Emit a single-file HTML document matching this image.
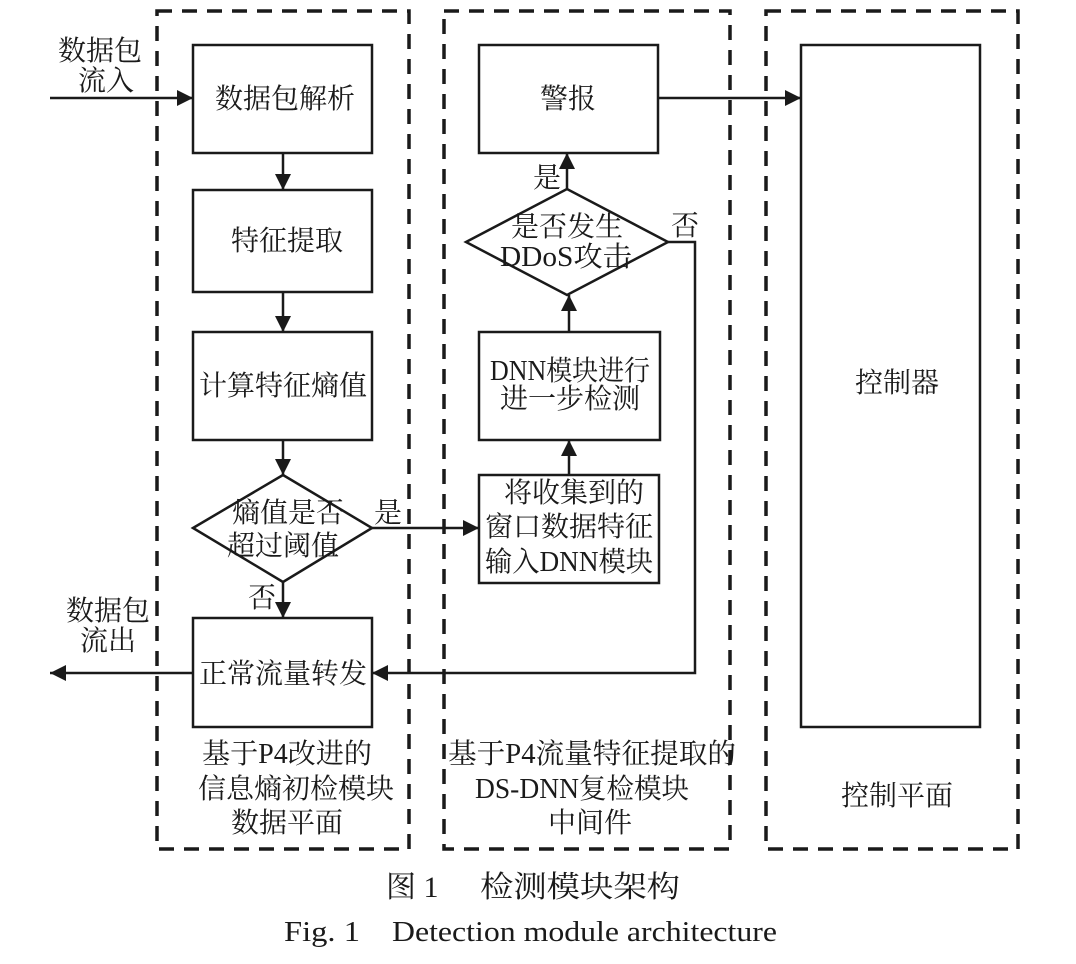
<!DOCTYPE html>
<html><head><meta charset="utf-8"><style>
html,body{margin:0;padding:0;background:#fff;}
svg{display:block;}
text{font-family:"Liberation Serif","Noto Serif CJK SC",serif;fill:#1a1a1a;}
</style></head><body>
<svg width="1076" height="964" viewBox="0 0 1076 964" xmlns="http://www.w3.org/2000/svg">
<defs>
<marker id="b" viewBox="0 0 10 10" refX="10" refY="5" markerWidth="20" markerHeight="16" markerUnits="userSpaceOnUse" orient="auto"><path d="M0,0 L10,5 L0,10 z" fill="#1a1a1a"/></marker>
</defs>
<g fill="none" stroke="#1a1a1a" stroke-width="3.5" stroke-dasharray="15,10">
<rect x="157" y="11" width="252" height="838"/>
<rect x="444" y="11" width="286" height="838"/>
<rect x="766" y="11" width="252" height="838"/>
</g>
<g fill="none" stroke="#1a1a1a" stroke-width="2.5">
<rect x="193" y="45" width="179" height="108"/>
<rect x="193" y="190" width="179" height="102"/>
<rect x="193" y="332" width="179" height="108"/>
<polygon points="193,528 283,475 372,528 283,582"/>
<rect x="193" y="618" width="179" height="109"/>
<rect x="479" y="45" width="179" height="108"/>
<polygon points="466,242 567,189 668,242 567,295"/>
<rect x="479" y="332" width="181" height="108"/>
<rect x="479" y="475" width="180" height="108"/>
<rect x="801" y="45" width="179" height="682"/>
</g>
<g stroke="#1a1a1a" stroke-width="2.5" fill="none">
<line x1="50" y1="98" x2="193" y2="98" marker-end="url(#b)"/>
<line x1="283" y1="153" x2="283" y2="190" marker-end="url(#b)"/>
<line x1="283" y1="292" x2="283" y2="332" marker-end="url(#b)"/>
<line x1="283" y1="440" x2="283" y2="475" marker-end="url(#b)"/>
<line x1="283" y1="582" x2="283" y2="618" marker-end="url(#b)"/>
<line x1="372" y1="528" x2="479" y2="528" marker-end="url(#b)"/>
<line x1="569" y1="475" x2="569" y2="440" marker-end="url(#b)"/>
<line x1="569" y1="332" x2="569" y2="295" marker-end="url(#b)"/>
<line x1="567" y1="189" x2="567" y2="153" marker-end="url(#b)"/>
<line x1="658" y1="98" x2="801" y2="98" marker-end="url(#b)"/>
<polyline points="668,242 695,242 695,673 372,673" marker-end="url(#b)"/>
<line x1="193" y1="673" x2="50" y2="673" marker-end="url(#b)"/>
</g>
<g font-size="28" text-anchor="middle">
<text x="100" y="60">数据包</text>
<text x="106" y="90">流入</text>
<text x="285" y="108">数据包解析</text>
<text x="287" y="250">特征提取</text>
<text x="283" y="395">计算特征熵值</text>
<text x="288" y="522">熵值是否</text>
<text x="283" y="555">超过阈值</text>
<text x="388" y="522">是</text>
<text x="262" y="607">否</text>
<text x="108" y="620">数据包</text>
<text x="108" y="650">流出</text>
<text x="283" y="683">正常流量转发</text>
<text x="568" y="108">警报</text>
<text x="547" y="187">是</text>
<text x="685" y="235">否</text>
<text x="567" y="236">是否发生</text>
<text x="566" y="266" textLength="132" lengthAdjust="spacingAndGlyphs">DDoS攻击</text>
<text x="570" y="380" textLength="160" lengthAdjust="spacingAndGlyphs">DNN模块进行</text>
<text x="570" y="408">进一步检测</text>
<text x="574" y="502">将收集到的</text>
<text x="569" y="536" textLength="168" lengthAdjust="spacingAndGlyphs">窗口数据特征</text>
<text x="569" y="571" textLength="168" lengthAdjust="spacingAndGlyphs">输入DNN模块</text>
<text x="897" y="392">控制器</text>
<text x="287" y="763" textLength="170" lengthAdjust="spacingAndGlyphs">基于P4改进的</text>
<text x="296" y="798" textLength="196" lengthAdjust="spacingAndGlyphs">信息熵初检模块</text>
<text x="287" y="832">数据平面</text>
<text x="592" y="763" textLength="288" lengthAdjust="spacingAndGlyphs">基于P4流量特征提取的</text>
<text x="582" y="798" textLength="214" lengthAdjust="spacingAndGlyphs">DS-DNN复检模块</text>
<text x="590" y="832">中间件</text>
<text x="897" y="805">控制平面</text>
</g>
<text x="386" y="897" font-size="30">图 1</text>
<text x="480" y="897" font-size="30" textLength="200" lengthAdjust="spacingAndGlyphs">检测模块架构</text>
<text x="284" y="941" font-size="29" textLength="76" lengthAdjust="spacingAndGlyphs">Fig. 1</text>
<text x="392" y="941" font-size="29" textLength="385" lengthAdjust="spacingAndGlyphs">Detection module architecture</text>
</svg>
</body></html>
